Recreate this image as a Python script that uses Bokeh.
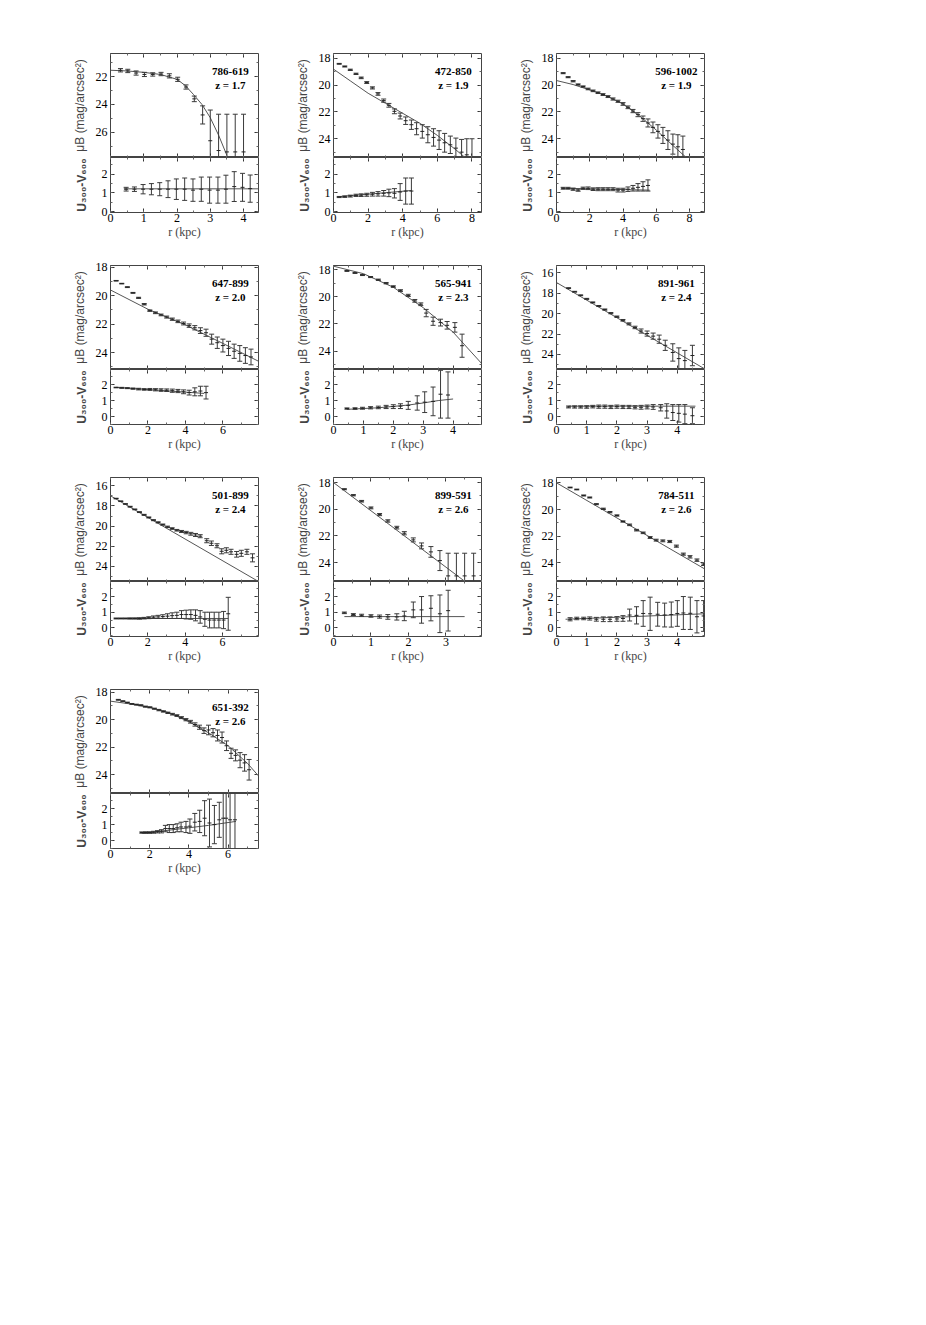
from bokeh.plotting import figure
from bokeh.models import Range1d, LinearAxis, SingleIntervalTicker, Label, CustomJSTickFormatter, Spacer
from bokeh.layouts import column, row
from bokeh.embed import file_html
from bokeh.resources import INLINE

# ---------------- data ----------------
names = ["786-619", "472-850", "596-1002", "647-899", "565-941",
         "891-961", "501-899", "899-591", "784-511", "651-392"]
zlabels = ["z = 1.7", "z = 1.9", "z = 1.9", "z = 2.0", "z = 2.3",
           "z = 2.4", "z = 2.4", "z = 2.6", "z = 2.6", "z = 2.6"]

# panel 1 : 786-619
p1_r = [0.3, 0.52, 0.77, 1.02, 1.27, 1.52, 1.77, 2.02, 2.27, 2.52, 2.77, 3.0, 3.25, 3.5, 3.75, 4.0]
p1_mu = [21.55, 21.6, 21.75, 21.85, 21.85, 21.82, 21.95, 22.2, 22.75, 23.6, 24.75, 26.6, 27.3, 27.4, 27.4, 27.4]
p1_err = [0.12, 0.12, 0.15, 0.15, 0.12, 0.12, 0.15, 0.15, 0.15, 0.2, 0.65, 2.2, 2.6, 2.7, 2.7, 2.7]
p1_fit_r = [0.0, 0.5, 1.0, 1.5, 2.0, 2.25, 2.5, 2.75, 3.0, 3.25, 3.5]
p1_fit_mu = [21.55, 21.6, 21.7, 21.85, 22.2, 22.65, 23.3, 24.0, 24.95, 26.2, 27.65]
p1_cr = [0.47, 0.72, 0.98, 1.23, 1.48, 1.73, 1.98, 2.23, 2.48, 2.73, 2.98, 3.23, 3.47, 3.72, 3.97, 4.2]
p1_col = [1.2, 1.2, 1.2, 1.2, 1.2, 1.2, 1.2, 1.2, 1.15, 1.2, 1.15, 1.15, 1.2, 1.34, 1.3, 1.23]
p1_cerr = [0.1, 0.12, 0.25, 0.3, 0.35, 0.45, 0.55, 0.6, 0.6, 0.65, 0.7, 0.7, 0.75, 0.8, 0.75, 0.73]
p1_cfit_r = [0.4, 4.45]
p1_cfit_col = [1.22, 1.22]

# panel 2 : 472-850
p2_r = [0.33, 0.65, 0.97, 1.3, 1.6, 1.92, 2.25, 2.57, 2.9, 3.2, 3.52, 3.85, 4.17, 4.5, 4.8, 5.13, 5.45, 5.78, 6.1, 6.42, 6.75, 7.07, 7.4, 7.7, 8.0]
p2_mu = [18.4, 18.6, 18.85, 19.15, 19.45, 19.8, 20.2, 20.65, 21.15, 21.5, 21.95, 22.3, 22.65, 22.95, 23.25, 23.45, 23.7, 23.9, 24.1, 24.3, 24.45, 24.7, 25.0, 25.2, 25.4]
p2_err = [0.03, 0.04, 0.05, 0.05, 0.06, 0.07, 0.08, 0.1, 0.12, 0.14, 0.18, 0.22, 0.28, 0.35, 0.45, 0.5, 0.6, 0.65, 0.7, 0.7, 0.65, 0.75, 0.95, 1.2, 1.4]
p2_fit_r = [0.0, 1.0, 2.0, 3.0, 4.0, 5.0, 6.0, 7.0, 7.6]
p2_fit_mu = [18.8, 19.7, 20.6, 21.35, 22.1, 22.85, 23.75, 24.75, 25.4]
p2_cr = [0.33, 0.65, 0.97, 1.3, 1.6, 1.92, 2.25, 2.57, 2.9, 3.2, 3.52, 3.85, 4.17, 4.5]
p2_col = [0.78, 0.8, 0.83, 0.87, 0.88, 0.9, 0.93, 0.95, 0.98, 1.0, 0.98, 1.05, 1.1, 1.1]
p2_cerr = [0.03, 0.04, 0.05, 0.06, 0.07, 0.08, 0.1, 0.12, 0.15, 0.2, 0.25, 0.45, 0.7, 0.7]
p2_cfit_r = [0.3, 4.5]
p2_cfit_col = [0.8, 1.13]

# panel 3 : 596-1002
p3_r = [0.4, 0.7, 1.0, 1.3, 1.6, 1.9, 2.2, 2.5, 2.8, 3.1, 3.4, 3.7, 4.0, 4.3, 4.6, 4.9, 5.2, 5.5, 5.8, 6.1, 6.4, 6.7, 7.0, 7.3, 7.6]
p3_mu = [19.1, 19.4, 19.7, 19.95, 20.1, 20.28, 20.42, 20.56, 20.7, 20.85, 21.03, 21.2, 21.4, 21.65, 21.93, 22.2, 22.5, 22.82, 23.15, 23.45, 23.75, 24.1, 24.4, 24.6, 24.8]
p3_err = [0.04, 0.04, 0.05, 0.05, 0.05, 0.06, 0.06, 0.06, 0.07, 0.07, 0.08, 0.08, 0.1, 0.1, 0.12, 0.15, 0.2, 0.3, 0.4, 0.5, 0.6, 0.7, 0.75, 0.9, 1.0]
p3_fit_r = [0.0, 1.0, 2.0, 3.0, 4.0, 5.0, 6.0, 7.0, 7.8]
p3_fit_mu = [19.65, 19.95, 20.35, 20.8, 21.4, 22.3, 23.35, 24.5, 25.4]
p3_cr = [0.4, 0.7, 1.0, 1.3, 1.6, 1.9, 2.2, 2.5, 2.8, 3.1, 3.4, 3.7, 4.0, 4.3, 4.6, 4.9, 5.2, 5.5]
p3_col = [1.25, 1.25, 1.2, 1.15, 1.25, 1.25, 1.2, 1.2, 1.2, 1.2, 1.2, 1.15, 1.15, 1.2, 1.25, 1.3, 1.35, 1.4]
p3_cerr = [0.05, 0.05, 0.06, 0.06, 0.06, 0.07, 0.07, 0.08, 0.08, 0.08, 0.08, 0.1, 0.1, 0.12, 0.15, 0.2, 0.25, 0.3]
p3_cfit_r = [0.3, 5.6]
p3_cfit_col = [1.25, 1.15]

# panel 4 : 647-899
p4_r = [0.3, 0.6, 0.9, 1.2, 1.5, 1.8, 2.1, 2.4, 2.7, 3.0, 3.3, 3.6, 3.9, 4.2, 4.5, 4.8, 5.1, 5.4, 5.7, 6.0, 6.3, 6.6, 6.9, 7.2, 7.5]
p4_mu = [18.95, 19.15, 19.4, 19.8, 20.15, 20.6, 21.05, 21.2, 21.35, 21.5, 21.65, 21.8, 21.95, 22.1, 22.25, 22.45, 22.6, 23.05, 23.3, 23.5, 23.7, 23.9, 24.05, 24.2, 24.3]
p4_err = [0.02, 0.02, 0.03, 0.03, 0.04, 0.05, 0.05, 0.06, 0.06, 0.07, 0.08, 0.09, 0.1, 0.12, 0.15, 0.2, 0.25, 0.35, 0.4, 0.45, 0.5, 0.5, 0.55, 0.55, 0.55]
p4_fit_r = [0.0, 2.0, 4.0, 6.0, 7.9]
p4_fit_mu = [19.6, 20.95, 22.05, 23.35, 24.6]
p4_cr = [0.3, 0.6, 0.9, 1.2, 1.5, 1.8, 2.1, 2.4, 2.7, 3.0, 3.3, 3.6, 3.9, 4.2, 4.5, 4.8, 5.1]
p4_col = [1.82, 1.8, 1.78, 1.75, 1.72, 1.7, 1.7, 1.68, 1.66, 1.65, 1.62, 1.6, 1.55, 1.5, 1.55, 1.6, 1.5]
p4_cerr = [0.02, 0.03, 0.03, 0.04, 0.05, 0.05, 0.06, 0.07, 0.08, 0.08, 0.1, 0.1, 0.12, 0.15, 0.25, 0.3, 0.4]
p4_cfit_r = [0.3, 5.0]
p4_cfit_col = [1.83, 1.45]

# panel 5 : 565-941
p5_r = [0.45, 0.72, 0.97, 1.24, 1.5, 1.76, 2.0, 2.24, 2.5, 2.72, 2.92, 3.1, 3.33, 3.58, 3.8, 4.06, 4.3]
p5_mu = [18.1, 18.25, 18.4, 18.55, 18.75, 19.0, 19.25, 19.55, 19.9, 20.3, 20.55, 21.2, 21.8, 21.9, 22.1, 22.25, 23.6]
p5_err = [0.03, 0.03, 0.04, 0.04, 0.05, 0.05, 0.06, 0.07, 0.08, 0.1, 0.1, 0.27, 0.3, 0.25, 0.28, 0.35, 0.85]
p5_fit_r = [0.0, 1.0, 2.0, 3.0, 4.0, 4.95]
p5_fit_mu = [17.75, 18.3, 19.3, 20.8, 22.6, 24.9]
p5_cr = [0.45, 0.72, 0.97, 1.24, 1.5, 1.76, 2.0, 2.24, 2.5, 2.8, 3.05, 3.33, 3.58, 3.83]
p5_col = [0.5, 0.5, 0.52, 0.55, 0.57, 0.6, 0.62, 0.65, 0.7, 0.85, 0.9, 0.95, 1.4, 1.35]
p5_cerr = [0.04, 0.05, 0.06, 0.07, 0.08, 0.1, 0.12, 0.15, 0.25, 0.45, 0.65, 0.9, 1.5, 1.45]
p5_cfit_r = [0.45, 1.5, 2.5, 3.0, 3.5, 4.0]
p5_cfit_col = [0.45, 0.55, 0.72, 0.85, 1.0, 1.1]

# panel 6 : 891-961
p6_r = [0.4, 0.6, 0.8, 1.0, 1.2, 1.4, 1.6, 1.8, 2.0, 2.2, 2.4, 2.6, 2.8, 3.0, 3.2, 3.4, 3.6, 3.85, 4.05, 4.25, 4.5]
p6_mu = [17.5, 17.85, 18.2, 18.55, 18.9, 19.25, 19.6, 19.95, 20.3, 20.65, 21.0, 21.35, 21.7, 21.95, 22.2, 22.5, 23.1, 23.8, 24.4, 24.6, 24.1]
p6_err = [0.04, 0.04, 0.04, 0.05, 0.05, 0.05, 0.06, 0.06, 0.07, 0.08, 0.1, 0.12, 0.2, 0.25, 0.3, 0.4, 0.5, 0.85, 1.05, 1.0, 1.0]
p6_fit_r = [0.0, 4.9]
p6_fit_mu = [16.95, 25.4]
p6_cr = [0.4, 0.6, 0.8, 1.0, 1.2, 1.4, 1.6, 1.8, 2.0, 2.2, 2.4, 2.6, 2.8, 3.0, 3.2, 3.45, 3.65, 3.85, 4.05, 4.25, 4.5]
p6_col = [0.6, 0.6, 0.6, 0.6, 0.62, 0.62, 0.62, 0.6, 0.62, 0.6, 0.6, 0.58, 0.58, 0.6, 0.6, 0.55, 0.35, 0.25, 0.2, 0.15, 0.05]
p6_cerr = [0.06, 0.07, 0.07, 0.08, 0.08, 0.1, 0.1, 0.1, 0.1, 0.1, 0.1, 0.1, 0.12, 0.12, 0.15, 0.2, 0.45, 0.5, 0.55, 0.6, 0.5]
p6_cfit_r = [0.4, 4.6]
p6_cfit_col = [0.65, 0.65]

# panel 7 : 501-899
p7_r = [0.3, 0.55, 0.8, 1.05, 1.3, 1.55, 1.8, 2.05, 2.3, 2.55, 2.8, 3.05, 3.3, 3.55, 3.8, 4.05, 4.3, 4.55, 4.8, 5.15, 5.4, 5.7, 5.95, 6.2, 6.45, 6.75, 7.0, 7.3, 7.6]
p7_mu = [17.26, 17.53, 17.8, 18.07, 18.34, 18.61, 18.88, 19.14, 19.41, 19.63, 19.85, 20.07, 20.24, 20.41, 20.53, 20.64, 20.76, 20.88, 21.0, 21.45, 21.7, 21.95, 22.5, 22.4, 22.55, 22.8, 22.7, 22.55, 23.15]
p7_err = [0.03, 0.03, 0.03, 0.04, 0.04, 0.04, 0.05, 0.05, 0.05, 0.06, 0.06, 0.07, 0.08, 0.08, 0.1, 0.12, 0.14, 0.15, 0.15, 0.2, 0.22, 0.2, 0.25, 0.25, 0.25, 0.28, 0.3, 0.25, 0.4]
p7_fit_r = [0.0, 7.92]
p7_fit_mu = [16.99, 25.5]
p7_cr = [0.3, 0.55, 0.8, 1.05, 1.3, 1.55, 1.8, 2.05, 2.3, 2.55, 2.8, 3.05, 3.3, 3.55, 3.8, 4.05, 4.3, 4.55, 4.8, 5.05, 5.3, 5.55, 5.8, 6.05, 6.3]
p7_col = [0.6, 0.6, 0.6, 0.6, 0.6, 0.6, 0.62, 0.65, 0.68, 0.7, 0.72, 0.75, 0.78, 0.8, 0.85, 0.85, 0.85, 0.8, 0.7, 0.55, 0.5, 0.5, 0.5, 0.5, 0.9]
p7_cerr = [0.03, 0.03, 0.03, 0.04, 0.04, 0.05, 0.05, 0.06, 0.08, 0.1, 0.12, 0.15, 0.18, 0.2, 0.25, 0.28, 0.3, 0.35, 0.4, 0.45, 0.5, 0.5, 0.5, 0.55, 1.05]
p7_cfit_r = [0.3, 6.3]
p7_cfit_col = [0.6, 0.6]

# panel 8 : 899-591
p8_r = [0.29, 0.53, 0.75, 1.0, 1.23, 1.45, 1.69, 1.89, 2.13, 2.35, 2.6, 2.84, 3.06, 3.28, 3.5, 3.74]
p8_mu = [18.5, 18.95, 19.4, 19.9, 20.4, 20.88, 21.38, 21.8, 22.3, 22.75, 23.2, 23.85, 25.0, 25.0, 25.0, 25.0]
p8_err = [0.04, 0.05, 0.06, 0.07, 0.08, 0.09, 0.1, 0.12, 0.15, 0.22, 0.4, 0.75, 1.7, 1.7, 1.7, 1.7]
p8_fit_r = [0.0, 3.5]
p8_fit_mu = [18.0, 25.4]
p8_cr = [0.29, 0.53, 0.75, 1.0, 1.23, 1.45, 1.69, 1.89, 2.13, 2.35, 2.6, 2.84, 3.06]
p8_col = [0.96, 0.85, 0.8, 0.76, 0.72, 0.7, 0.7, 0.76, 1.15, 1.15, 1.25, 0.9, 1.1]
p8_cerr = [0.05, 0.06, 0.07, 0.08, 0.1, 0.15, 0.2, 0.3, 0.5, 0.85, 0.8, 1.2, 1.3]
p8_cfit_r = [0.29, 3.5]
p8_cfit_col = [0.72, 0.72]

# panel 9 : 784-511
p9_r = [0.45, 0.67, 0.9, 1.1, 1.32, 1.55, 1.77, 2.0, 2.2, 2.42, 2.65, 2.87, 3.1, 3.3, 3.52, 3.75, 3.97, 4.2, 4.42, 4.65, 4.87]
p9_mu = [18.35, 18.5, 18.95, 19.1, 19.6, 19.95, 20.2, 20.45, 20.9, 21.15, 21.55, 21.75, 22.1, 22.3, 22.35, 22.4, 22.75, 23.35, 23.55, 23.8, 24.1]
p9_err = [0.03, 0.03, 0.04, 0.04, 0.04, 0.05, 0.05, 0.05, 0.05, 0.06, 0.06, 0.06, 0.07, 0.07, 0.07, 0.08, 0.08, 0.08, 0.09, 0.09, 0.1]
p9_fit_r = [0.0, 4.9]
p9_fit_mu = [18.0, 24.45]
p9_cr = [0.45, 0.67, 0.9, 1.1, 1.32, 1.55, 1.77, 2.0, 2.2, 2.42, 2.65, 2.87, 3.1, 3.35, 3.58, 3.8, 4.0, 4.2, 4.43, 4.65, 4.87]
p9_col = [0.55, 0.6, 0.6, 0.6, 0.55, 0.55, 0.55, 0.57, 0.6, 0.82, 0.8, 0.92, 0.9, 0.87, 0.82, 0.85, 0.92, 0.95, 0.93, 0.71, 0.76]
p9_cerr = [0.1, 0.08, 0.08, 0.1, 0.12, 0.15, 0.15, 0.15, 0.18, 0.38, 0.55, 0.82, 1.06, 0.76, 0.76, 0.8, 0.82, 1.05, 1.03, 1.03, 0.98]
p9_cfit_r = [0.3, 4.9]
p9_cfit_col = [0.55, 0.9]

# panel 10 : 651-392
p10_r = [0.4, 0.63, 0.86, 1.09, 1.32, 1.55, 1.78, 2.01, 2.24, 2.47, 2.7, 2.93, 3.16, 3.39, 3.62, 3.85, 4.08, 4.31, 4.54, 4.77, 5.0, 5.23, 5.46, 5.69, 5.92, 6.15, 6.38, 6.61, 6.84, 7.07]
p10_mu = [18.55, 18.65, 18.75, 18.85, 18.9, 18.95, 19.05, 19.1, 19.2, 19.3, 19.4, 19.5, 19.6, 19.7, 19.85, 20.0, 20.15, 20.35, 20.55, 20.8, 20.75, 20.95, 21.15, 21.3, 21.9, 22.45, 22.6, 22.95, 23.15, 23.65]
p10_err = [0.03, 0.03, 0.03, 0.03, 0.03, 0.04, 0.04, 0.04, 0.04, 0.05, 0.05, 0.05, 0.06, 0.06, 0.07, 0.08, 0.1, 0.12, 0.15, 0.2, 0.35, 0.3, 0.4, 0.4, 0.35, 0.37, 0.4, 0.55, 0.6, 0.75]
p10_fit_r = [0.0, 1.0, 2.0, 3.0, 4.0, 5.0, 6.0, 7.0, 7.55]
p10_fit_mu = [18.65, 18.85, 19.1, 19.5, 20.15, 20.95, 21.9, 23.2, 24.1]
p10_cr = [1.6, 1.8, 2.0, 2.2, 2.4, 2.6, 2.8, 3.0, 3.2, 3.4, 3.6, 3.85, 4.05, 4.3, 4.55, 4.8, 5.05, 5.3, 5.55, 5.75, 5.9, 6.1, 6.35]
p10_col = [0.5, 0.5, 0.5, 0.52, 0.55, 0.58, 0.75, 0.75, 0.75, 0.8, 0.85, 0.85, 0.9, 1.15, 1.2, 1.4, 1.1, 1.0, 1.3, 1.4, 1.4, 1.3, 1.3]
p10_cerr = [0.04, 0.05, 0.05, 0.06, 0.07, 0.1, 0.2, 0.25, 0.25, 0.25, 0.3, 0.35, 0.45, 0.55, 0.7, 1.1, 1.5, 1.2, 1.1, 2.5, 2.5, 2.5, 2.5]
p10_cfit_r = [1.6, 3.0, 4.0, 5.0, 6.4]
p10_cfit_col = [0.45, 0.65, 0.8, 0.95, 1.2]

# axis extents / tick steps per panel
x_max = [4.45, 8.55, 8.9, 7.9, 4.95, 4.9, 7.92, 3.95, 4.9, 7.55]
x_step = [1, 2, 2, 2, 1, 1, 2, 1, 1, 2]
mu_bottom = [27.8, 25.4, 25.4, 25.18, 25.35, 25.47, 25.5, 25.42, 25.4, 25.38]
mu_top = [20.35, 17.63, 17.63, 17.88, 17.7, 15.28, 15.17, 17.62, 17.6, 17.8]
col_low = [-0.05, -0.05, -0.05, -0.5, -0.5, -0.5, -0.55, -0.55, -0.55, -0.5]
col_high = [2.9, 2.9, 2.9, 2.95, 2.95, 2.95, 2.96, 2.96, 2.96, 2.95]

profiles = [
    (p1_r, p1_mu, p1_err, p1_fit_r, p1_fit_mu, p1_cr, p1_col, p1_cerr, p1_cfit_r, p1_cfit_col),
    (p2_r, p2_mu, p2_err, p2_fit_r, p2_fit_mu, p2_cr, p2_col, p2_cerr, p2_cfit_r, p2_cfit_col),
    (p3_r, p3_mu, p3_err, p3_fit_r, p3_fit_mu, p3_cr, p3_col, p3_cerr, p3_cfit_r, p3_cfit_col),
    (p4_r, p4_mu, p4_err, p4_fit_r, p4_fit_mu, p4_cr, p4_col, p4_cerr, p4_cfit_r, p4_cfit_col),
    (p5_r, p5_mu, p5_err, p5_fit_r, p5_fit_mu, p5_cr, p5_col, p5_cerr, p5_cfit_r, p5_cfit_col),
    (p6_r, p6_mu, p6_err, p6_fit_r, p6_fit_mu, p6_cr, p6_col, p6_cerr, p6_cfit_r, p6_cfit_col),
    (p7_r, p7_mu, p7_err, p7_fit_r, p7_fit_mu, p7_cr, p7_col, p7_cerr, p7_cfit_r, p7_cfit_col),
    (p8_r, p8_mu, p8_err, p8_fit_r, p8_fit_mu, p8_cr, p8_col, p8_cerr, p8_cfit_r, p8_cfit_col),
    (p9_r, p9_mu, p9_err, p9_fit_r, p9_fit_mu, p9_cr, p9_col, p9_cerr, p9_cfit_r, p9_cfit_col),
    (p10_r, p10_mu, p10_err, p10_fit_r, p10_fit_mu, p10_cr, p10_col, p10_cerr, p10_cfit_r, p10_cfit_col),
]

# ---------------- styling ----------------
SERIF = "Liberation Serif"
SANS = "Liberation Sans"
FRAME_W = 148
UP_H = 104
LO_H = 55
B_LEFT = 50
B_RIGHT = 25
B_TOP = 10
B_BOTTOM = 43
BAR = "#3a3a3a"
FIT = "#555555"


def style_axis(ax, labels):
    ax.axis_line_color = None
    ax.major_tick_in = 4
    ax.major_tick_out = 0
    ax.minor_tick_in = 2
    ax.minor_tick_out = 0
    ax.major_tick_line_color = "#333333"
    ax.minor_tick_line_color = "#666666"
    if labels:
        ax.major_label_text_font = SERIF
        ax.major_label_text_font_size = "12px"
        ax.major_label_text_color = "black"
    else:
        ax.formatter = CustomJSTickFormatter(code="return ''")
        ax.major_label_text_font_size = "0px"
        ax.major_label_standoff = 0


def add_axis(p, place, step, labels):
    ax = LinearAxis(ticker=SingleIntervalTicker(interval=step, num_minor_ticks=2))
    style_axis(ax, labels)
    p.add_layout(ax, place)
    return ax


def errbars(p, x, y, e):
    lo = [a - b for a, b in zip(y, e)]
    hi = [a + b for a, b in zip(y, e)]
    p.segment(x0=x, y0=lo, x1=x, y1=hi, line_color=BAR, line_width=1)
    p.scatter(x=x, y=lo, marker="dash", size=5, line_color=BAR, line_width=1)
    p.scatter(x=x, y=hi, marker="dash", size=5, line_color=BAR, line_width=1)
    p.scatter(x=x, y=y, marker="dash", size=4, line_color="#222222", line_width=1)


def make_cell(i):
    r, mu, err, fr, fmu, cr, col, cerr, cfr, cfc = profiles[i]
    xr = Range1d(0, x_max[i])

    up = figure(frame_width=FRAME_W, frame_height=UP_H, x_range=xr,
                y_range=Range1d(mu_bottom[i], mu_top[i]),
                x_axis_location=None, y_axis_location=None,
                output_backend="svg", toolbar_location=None,
                min_border_left=B_LEFT, min_border_right=B_RIGHT,
                min_border_top=B_TOP, min_border_bottom=0,
                background_fill_color="white", border_fill_color="white")
    up.outline_line_color = "#444444"
    up.outline_line_width = 1
    up.grid.visible = False
    ya = add_axis(up, "left", 2, True)
    ya.axis_label = "\u03bcB (mag/arcsec\u00b2)"
    ya.axis_label_text_font = SANS
    ya.axis_label_text_font_size = "12px"
    ya.axis_label_text_font_style = "normal"
    ya.axis_label_standoff = 6
    ya.major_label_standoff = 3
    add_axis(up, "right", 2, False)
    add_axis(up, "above", x_step[i], False)
    add_axis(up, "below", x_step[i], False)

    up.line(fr, fmu, line_color=FIT, line_width=1)
    errbars(up, r, mu, err)

    span = mu_bottom[i] - mu_top[i]
    up.add_layout(Label(x=0.81 * x_max[i], y=mu_top[i] + 0.17 * span, text=names[i],
                        text_font=SERIF, text_font_style="bold", text_font_size="11px",
                        text_align="center", text_baseline="middle", text_color="black"))
    up.add_layout(Label(x=0.81 * x_max[i], y=mu_top[i] + 0.30 * span, text=zlabels[i],
                        text_font=SERIF, text_font_style="bold", text_font_size="11px",
                        text_align="center", text_baseline="middle", text_color="black"))

    lo = figure(frame_width=FRAME_W, frame_height=LO_H, x_range=xr,
                y_range=Range1d(col_low[i], col_high[i]),
                x_axis_location=None, y_axis_location=None,
                output_backend="svg", toolbar_location=None,
                min_border_left=B_LEFT, min_border_right=B_RIGHT,
                min_border_top=0, min_border_bottom=B_BOTTOM,
                background_fill_color="white", border_fill_color="white")
    lo.outline_line_color = "#444444"
    lo.outline_line_width = 1
    lo.grid.visible = False
    cy = add_axis(lo, "left", 1, True)
    cy.axis_label = "U\u2083\u2080\u2080-V\u2086\u2080\u2080"
    cy.axis_label_text_font = SANS
    cy.axis_label_text_font_size = "12px"
    cy.axis_label_text_font_style = "bold"
    cy.axis_label_standoff = 10
    cy.major_label_standoff = 3
    add_axis(lo, "right", 1, False)
    add_axis(lo, "above", x_step[i], False)
    xa = add_axis(lo, "below", x_step[i], True)
    xa.axis_label = "r (kpc)"
    xa.axis_label_text_font = SERIF
    xa.axis_label_text_font_size = "12px"
    xa.axis_label_text_font_style = "normal"
    xa.axis_label_standoff = 0
    xa.major_label_standoff = 1

    lo.line(cfr, cfc, line_color=FIT, line_width=1)
    errbars(lo, cr, col, cerr)
    return column(up, lo, spacing=0)


cells = [make_cell(i) for i in range(10)]
rows = [
    row(Spacer(width=60, height=10), cells[0], cells[1], cells[2], spacing=0),
    row(Spacer(width=60, height=10), cells[3], cells[4], cells[5], spacing=0),
    row(Spacer(width=60, height=10), cells[6], cells[7], cells[8], spacing=0),
    row(Spacer(width=60, height=10), cells[9], spacing=0),
]
root = column(Spacer(width=10, height=43), *rows, spacing=0)

open("out.html", "w").write(file_html(root, INLINE))
